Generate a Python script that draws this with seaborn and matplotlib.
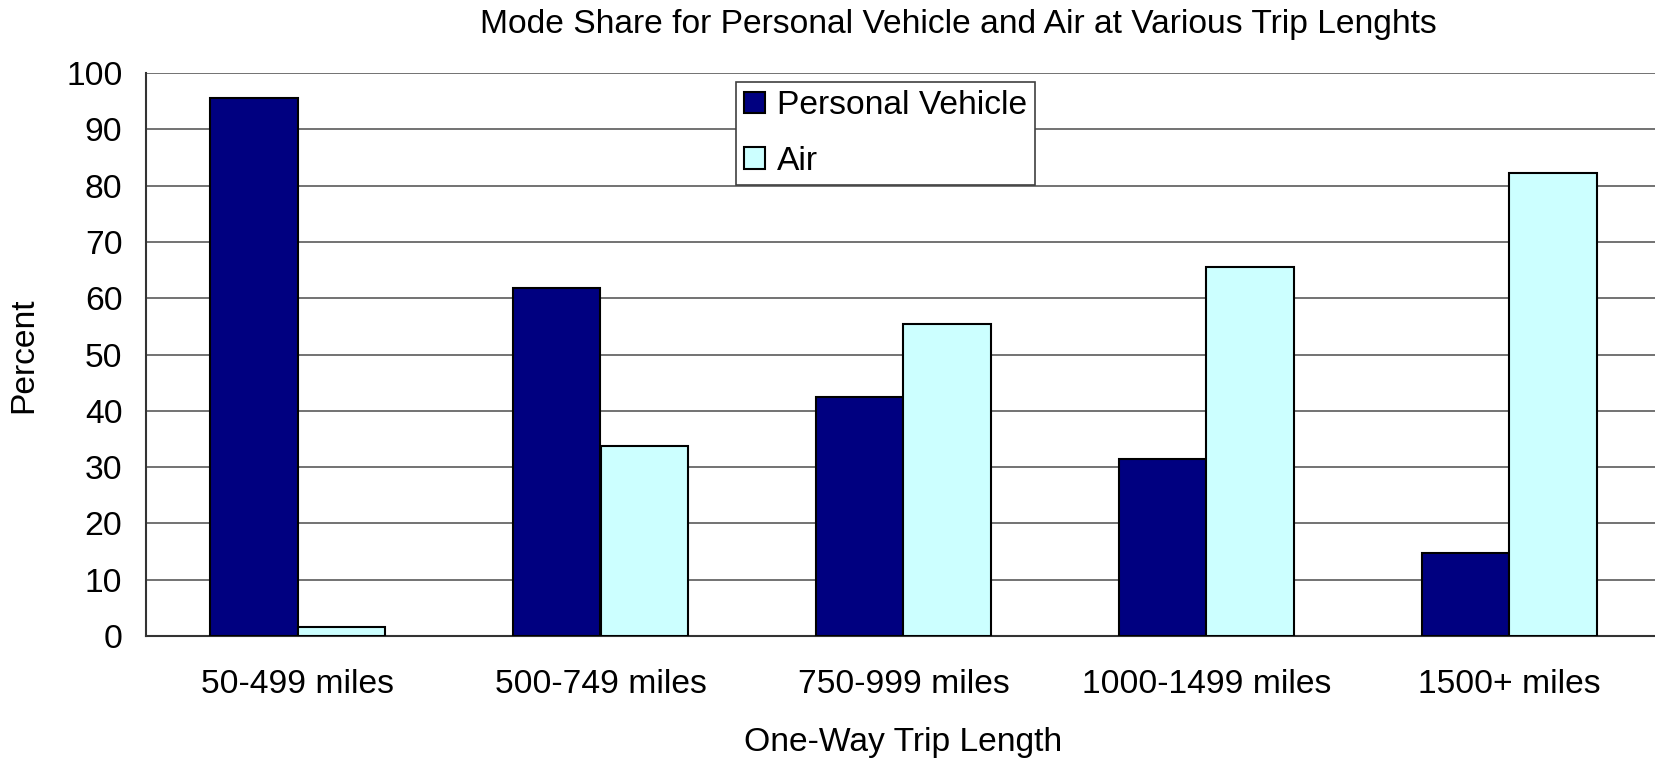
import numpy as np
import pandas as pd
import matplotlib
matplotlib.use("Agg")
import matplotlib.pyplot as plt
import seaborn as sns

# values
trip_lengths = ['50-499 miles', '500-749 miles', '750-999 miles', '1000-1499 miles', '1500+ miles']
personal_vehicle = [95.5, 61.8, 42.4, 31.5, 14.8]
air = [1.6, 33.7, 55.4, 65.6, 82.2]
modes = ['Personal Vehicle', 'Air']
mode_colors = ['#000080', '#CCFFFF']

df = pd.DataFrame({
    'length': trip_lengths * 2,
    'mode': [modes[0]] * len(trip_lengths) + [modes[1]] * len(trip_lengths),
    'percent': personal_vehicle + air,
})

sns.set_style('white')
plt.rcParams['font.family'] = ['Liberation Sans', 'DejaVu Sans']
plt.rcParams['text.color'] = 'black'
plt.rcParams['xtick.labelcolor'] = 'black'
plt.rcParams['ytick.labelcolor'] = 'black'
FS = 24.2

W, H = 1655, 760
fig = plt.figure(figsize=(W / 100, H / 100), dpi=100)
ax = fig.add_axes([146 / W, 1 - 636 / H, (1661 - 146) / W, (636 - 73) / H])

sns.barplot(data=df, x='length', y='percent', hue='mode', order=trip_lengths,
            hue_order=modes, palette=mode_colors, width=0.58,
            edgecolor='black', linewidth=1.5, saturation=1, ax=ax, zorder=3)

ax.set_ylim(0, 100)
ax.set_xlim(-0.5, len(trip_lengths) - 0.5)
ax.set_yticks(np.arange(0, 101, 10))
ax.yaxis.grid(True, color='#5a5a5a', linewidth=1.2, zorder=0)
ax.xaxis.grid(False)
ax.set_axisbelow(True)

for side in ['top', 'right']:
    ax.spines[side].set_visible(False)
for side in ['left', 'bottom']:
    ax.spines[side].set_color('#333333')
    ax.spines[side].set_linewidth(1.5)

# category ticks sit on the group boundaries, labels at the centres
ax.set_xticks(np.arange(-0.5, len(trip_lengths) + 0.5, 1), minor=True)
ax.tick_params(axis='x', which='minor', length=11, width=1.2, color='#333333', direction='out')
ax.tick_params(axis='x', which='major', length=0, pad=24, labelsize=FS, labelcolor='black')
ax.tick_params(axis='y', length=11, width=1.2, color='#333333', direction='out', pad=6,
               labelsize=FS, labelcolor='black')
ax.set_xticklabels(trip_lengths)

ax.set_xlabel('')
ax.set_ylabel('')
fig.text(24 / W, 1 - 355 / H, 'Percent', rotation=90, fontsize=FS, ha='center', va='center')
fig.text(903 / W, 1 - 742 / H, 'One-Way Trip Length', fontsize=FS, ha='center', va='center')
fig.text(958 / W, 1 - 24 / H, 'Mode Share for Personal Vehicle and Air at Various Trip Lenghts',
         fontsize=FS, ha='center', va='center')

handles, labels = ax.get_legend_handles_labels()
ax.get_legend().remove()
leg = fig.legend(handles, labels, loc='upper left', bbox_to_anchor=(735.7 / W, 1 - 82 / H),
                 bbox_transform=fig.transFigure, borderaxespad=0, fontsize=FS,
                 frameon=True, fancybox=False, framealpha=1, edgecolor='#404040',
                 handlelength=0.62, handleheight=0.62, handletextpad=0.35,
                 labelspacing=0.72, borderpad=0.25)
leg.get_frame().set_linewidth(1.2)

fig.savefig('out.png', dpi=100)
